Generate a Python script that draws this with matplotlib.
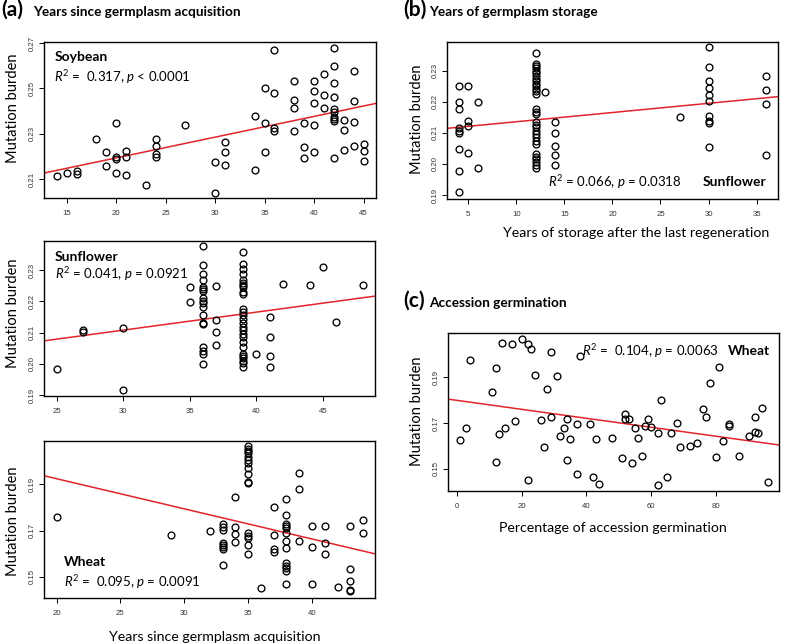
import matplotlib
matplotlib.use('Agg')
import matplotlib.pyplot as plt

plt.rcParams['font.family'] = ['Lato', 'DejaVu Sans']
plt.rcParams['mathtext.fontset'] = 'custom'
plt.rcParams['mathtext.rm'] = 'Lato'
plt.rcParams['mathtext.it'] = 'Lato:italic'
plt.rcParams['mathtext.bf'] = 'Lato:bold'

# ---------------- data ----------------
soy_x = [14, 15, 16, 16, 18, 19, 19, 20, 20, 20, 20, 21, 21, 21, 23, 24, 24, 24, 24, 27,
         30, 30, 31, 31, 31, 34, 34, 35, 35, 35, 36, 36, 36, 36, 38, 38, 38, 38, 39, 39, 39,
         40, 40, 40, 40, 40, 41, 41, 41, 42, 42, 42, 42, 42, 42, 42, 42, 42, 42,
         43, 43, 43, 44, 44, 44, 44, 45, 45, 45]
soy_y = [0.2113, 0.2128, 0.2139, 0.2125, 0.2278, 0.2220, 0.2157, 0.2348, 0.2198, 0.2190, 0.2128,
         0.2227, 0.2198, 0.2120, 0.2077, 0.2278, 0.2249, 0.2212, 0.2198, 0.2341,
         0.2177, 0.2040, 0.2264, 0.2220, 0.2163, 0.2377, 0.2142, 0.2500, 0.2348, 0.2220,
         0.2669, 0.2478, 0.2326, 0.2312, 0.2534, 0.2449, 0.2412, 0.2312, 0.2348, 0.2242, 0.2195,
         0.2534, 0.2487, 0.2436, 0.2341, 0.2220, 0.2563, 0.2471, 0.2412,
         0.2677, 0.2599, 0.2522, 0.2464, 0.2410, 0.2395, 0.2376, 0.2366, 0.2356, 0.2193,
         0.2363, 0.2319, 0.2230, 0.2577, 0.2443, 0.2351, 0.2249, 0.2256, 0.2224, 0.2179]
soy_fit = (0.2012, 0.000913)

sun_x = [25, 27, 27, 30, 30, 35, 35] + [36] * 18 + [37] * 4 + [39] * 27 + [40] + [41] * 4 + [42, 44, 45, 46, 48]
sun_y = [0.1983, 0.2109, 0.2101, 0.2114, 0.1915, 0.2247, 0.2197,
         0.2377, 0.2316, 0.2286, 0.2268, 0.2247, 0.2239, 0.2233, 0.2210, 0.2201, 0.2194,
         0.2181, 0.2156, 0.2132, 0.2127, 0.2053, 0.2042, 0.2032, 0.1999,
         0.2249, 0.2140, 0.2101, 0.2061,
         0.2358, 0.2321, 0.2305, 0.2287, 0.2268, 0.2259, 0.2252, 0.2245, 0.2231, 0.2223,
         0.2174, 0.2167, 0.2156, 0.2142, 0.2130, 0.2117, 0.2108, 0.2096, 0.2085, 0.2071,
         0.2055, 0.2032, 0.2025, 0.2018, 0.2009, 0.2002, 0.1990,
         0.2031, 0.2151, 0.2087, 0.2025, 0.1990,
         0.2257, 0.2253, 0.2311, 0.2135, 0.2252]
sun_fit = (0.1935, 0.000576)

wht_x = [20, 29, 32] + [33] * 8 + [34] * 4 + [35] * 16 + [36] + [37] * 4 + [38] * 13 + \
        [39] * 3 + [40] * 3 + [41] * 3 + [42] + [43] * 5 + [44] * 2
wht_y = [0.1760, 0.1681, 0.1700,
         0.1727, 0.1714, 0.1702, 0.1648, 0.1638, 0.1629, 0.1621, 0.1551,
         0.1846, 0.1714, 0.1684, 0.1652,
         0.2065, 0.2054, 0.2044, 0.2034, 0.2019, 0.2005, 0.1991, 0.1969, 0.1945, 0.1911,
         0.1904, 0.1688, 0.1677, 0.1667, 0.1638, 0.1599,
         0.1451,
         0.1800, 0.1681, 0.1619, 0.1609,
         0.1835, 0.1767, 0.1729, 0.1720, 0.1710, 0.1691, 0.1656, 0.1624, 0.1559, 0.1547,
         0.1537, 0.1527, 0.1469,
         0.1948, 0.1878, 0.1655,
         0.1720, 0.1628, 0.1469,
         0.1720, 0.1645, 0.1598,
         0.1458,
         0.1720, 0.1534, 0.1484, 0.1443, 0.1438,
         0.1746, 0.1688]
wht_fit = (0.2184, -0.0013)

sto_x = [4] * 9 + [5] * 4 + [6] * 2 + [12] * 31 + [13] + [14] * 5 + [27] + [30] * 10 + [36] * 4
sto_y = [0.2249, 0.2198, 0.2177, 0.2114, 0.2107, 0.2098, 0.2048, 0.1978, 0.1909,
         0.2249, 0.2138, 0.2123, 0.2036,
         0.2198, 0.1988,
         0.2358, 0.2322, 0.2315, 0.2308, 0.2300, 0.2292, 0.2283, 0.2272, 0.2265, 0.2257,
         0.2249, 0.2240, 0.2233, 0.2225, 0.2176, 0.2168, 0.2161, 0.2136, 0.2125, 0.2118,
         0.2107, 0.2096, 0.2086, 0.2075, 0.2064, 0.2032, 0.2023, 0.2015, 0.2007, 0.1997, 0.1986,
         0.2230,
         0.2136, 0.2100, 0.2058, 0.2029, 0.1997,
         0.2152,
         0.2375, 0.2313, 0.2265, 0.2243, 0.2222, 0.2202, 0.2154, 0.2138, 0.2133, 0.2053,
         0.2283, 0.2238, 0.2192, 0.2029]
sto_fit = (0.2106, 0.000296)

ger_x = [1, 3, 4, 11, 12, 12, 13, 14, 15, 17, 18, 20, 22, 22, 23, 24, 26, 27, 28, 29, 29, 31,
         32, 33, 34, 34, 35, 37, 37, 38, 41, 42, 43, 44, 48, 51, 52, 52, 53, 54, 55, 56, 57,
         58, 59, 60, 62, 62, 63, 65, 66, 68, 69, 72, 74, 76, 77, 78, 80, 81, 82, 84, 84, 87,
         90, 92, 92, 93, 94, 96]
ger_y = [0.1626, 0.1680, 0.1976, 0.1835, 0.1942, 0.1532, 0.1651, 0.2048, 0.1680, 0.2046,
         0.1711, 0.2066, 0.2044, 0.1452, 0.2022, 0.1910, 0.1714, 0.1594, 0.1848, 0.2009,
         0.1725, 0.1906, 0.1644, 0.1680, 0.1717, 0.1539, 0.1629, 0.1696, 0.1478, 0.1993,
         0.1696, 0.1466, 0.1629, 0.1433, 0.1637, 0.1549, 0.1740, 0.1717, 0.1717, 0.1528,
         0.1677, 0.1637, 0.1557, 0.1688, 0.1717, 0.1685, 0.1430, 0.1656, 0.1801, 0.1466,
         0.1656, 0.1702, 0.1594, 0.1602, 0.1615, 0.1760, 0.1725, 0.1877, 0.1551, 0.1947,
         0.1622, 0.1695, 0.1688, 0.1558, 0.1644, 0.1725, 0.1663, 0.1656, 0.1768, 0.1442]
ger_fit = (0.17996, -0.000196)

# ---------------- layout helpers ----------------
W, H = 795, 644
fig = plt.figure(figsize=(W / 100, H / 100), dpi=100)


def box(l, t, r, b):
    return [l / W, 1 - b / H, (r - l) / W, (b - t) / H]


def T(px, py, s, **kw):
    return fig.text(px / W, 1 - py / H, s, **kw)


def panel(rect, x, y, fit, xlim, ylim, xt, yt, ytl):
    ax = fig.add_axes(rect)
    ax.plot(x, y, 'o', mfc='none', mec='black', ms=4.9, mew=0.95, zorder=3)
    ax.axline((0, fit[0]), slope=fit[1], color='#e3232a', lw=1.1, zorder=2)
    ax.set_xlim(*xlim)
    ax.set_ylim(*ylim)
    ax.set_xticks(xt)
    ax.set_xticklabels([str(v) for v in xt], fontfamily='Liberation Sans')
    ax.set_yticks(yt)
    ax.set_yticklabels(ytl, fontfamily='Liberation Sans', rotation=90, va='center')
    ax.tick_params(axis='x', length=3.6, width=0.7, pad=5.0, labelsize=5.6, labelcolor='#333333')
    ax.tick_params(axis='y', length=3.6, width=0.7, pad=2.2, labelsize=5.6, labelcolor='#333333')
    for s in ax.spines.values():
        s.set_linewidth(1.0)
        s.set_color('black')
    return ax


# (a) Soybean
panel(box(44.3, 42.3, 376, 198.3), soy_x, soy_y, soy_fit, (12.74, 46.26), (0.2017, 0.2703),
      [15, 20, 25, 30, 35, 40, 45], [0.21, 0.23, 0.25, 0.27], ['0.21', '0.23', '0.25', '0.27'])
# (a) Sunflower
panel(box(44.3, 240.7, 375.3, 395.7), sun_x, sun_y, sun_fit, (24.07, 48.93), (0.1898, 0.2394),
      [25, 30, 35, 40, 45], [0.19, 0.20, 0.21, 0.22, 0.23], ['0.19', '0.20', '0.21', '0.22', '0.23'])
# (a) Wheat
panel(box(44.3, 440.7, 375.3, 598.3), wht_x, wht_y, wht_fit, (19.04, 44.96), (0.1408, 0.2088),
      [20, 25, 30, 35, 40], [0.15, 0.17, 0.19], ['0.15', '0.17', '0.19'])
# (b) storage
panel(box(446.7, 41.7, 777.7, 199), sto_x, sto_y, sto_fit, (2.75, 37.2), (0.1887, 0.2393),
      [5, 10, 15, 20, 25, 30, 35], [0.19, 0.20, 0.21, 0.22, 0.23], ['0.19', '0.20', '0.21', '0.22', '0.23'])
# (c) germination
panel(box(447.7, 333.3, 778.7, 491), ger_x, ger_y, ger_fit, (-2.77, 99.3), (0.1404, 0.2092),
      [0, 20, 40, 60, 80], [0.15, 0.17, 0.19], ['0.15', '0.17', '0.19'])

# ---------------- titles ----------------
T(1.0, 15.5, '(a)', fontsize=15, fontweight='bold', va='baseline')
T(33.3, 15.5, 'Years since germplasm acquisition', fontsize=9.8, fontweight='bold', va='baseline')
T(402.8, 15.5, '(b)', fontsize=15, fontweight='bold', va='baseline')
T(429.3, 15.5, 'Years of germplasm storage', fontsize=9.8, fontweight='bold', va='baseline')
T(402.8, 306.6, '(c)', fontsize=15, fontweight='bold', va='baseline')
T(429.3, 306.6, 'Accession germination', fontsize=9.8, fontweight='bold', va='baseline')

# ---------------- axis labels ----------------
lab = dict(fontsize=10.5, rotation=90, ha='center', va='center')
T(13.3, 108, 'Mutation burden', **lab)
T(13.3, 313, 'Mutation burden', **lab)
T(13.3, 521.7, 'Mutation burden', **lab)
T(417.3, 119, 'Mutation burden', **lab)
T(417.3, 411.7, 'Mutation burden', **lab)

xl = dict(fontsize=10.2, ha='center', va='center')
T(215, 636.7, 'Years since germplasm acquisition', **xl)
T(636, 233, 'Years of storage after the last regeneration', **xl)
T(613, 528, 'Percentage of accession germination', **xl)

# ---------------- annotations ----------------
ann = dict(fontsize=9.5, va='center')
bann = dict(fontsize=10, va='center', fontweight='bold')
T(54.3, 57.3, 'Soybean', **bann)
T(54.3, 76.7, r'$R^2$ =  0.317, $p$ < 0.0001', **ann)
T(55, 257.3, 'Sunflower', **bann)
T(55, 274, r'$R^2$ = 0.041, $p$ = 0.0921', **ann)
T(64, 561.7, 'Wheat', **bann)
T(64, 581.7, r'$R^2$ =  0.095, $p$ = 0.0091', **ann)
T(548.3, 181.7, r'$R^2$ = 0.066, $p$ = 0.0318', **ann)
T(766, 181.7, 'Sunflower', ha='right', **bann)
T(581.7, 350.7, r'$R^2$ =  0.104, $p$ = 0.0063', **ann)
T(770, 350.7, 'Wheat', ha='right', **bann)

fig.savefig('out.png', dpi=100)
